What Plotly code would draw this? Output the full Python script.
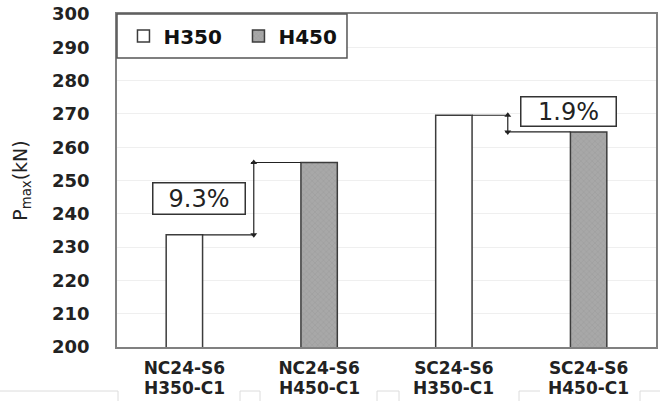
import plotly.graph_objects as go

# Specimens and peak loads (kN)
cat_top = ["NC24-S6", "NC24-S6", "SC24-S6", "SC24-S6"]
cat_bottom = ["H350-C1", "H450-C1", "H350-C1", "H450-C1"]
h350 = [233.7, None, 269.6, None]
h450 = [None, 255.4, None, 264.6]
y_ticks = list(range(200, 301, 10))

x_idx = list(range(len(cat_top)))
BAR_W = 0.27
EDGE = "#3c3c3c"
FONT = "DejaVu Sans"

fig = go.Figure()
fig.add_trace(go.Bar(
    x=x_idx, y=h350, name="H350", width=BAR_W,
    marker=dict(color="white", line=dict(color=EDGE, width=1.5)),
))
fig.add_trace(go.Bar(
    x=x_idx, y=h450, name="H450", width=BAR_W,
    marker=dict(color="#a3a3a3", line=dict(color=EDGE, width=1.5),
                pattern=dict(shape="x", fgcolor="#8c8c8c", bgcolor="#a8a8a8",
                             size=4, solidity=0.25)),
))

shapes = []
annotations = []


def pct_link(i_from, i_to, v_from, v_to, arrow_x, label_x, label_y, yshift, w, h):
    """Step connector between two bar tops with a double arrow and a % box."""
    half = BAR_W / 2
    # horizontal leaders from each bar top to the arrow
    shapes.append(dict(type="line", xref="x", yref="y", x0=i_from + half, x1=arrow_x + 0.01,
                       y0=v_from, y1=v_from, line=dict(color="#222", width=1.2)))
    shapes.append(dict(type="line", xref="x", yref="y", x0=arrow_x - 0.02, x1=i_to - half,
                       y0=v_to, y1=v_to, line=dict(color="#222", width=1.2)))
    # vertical double-headed arrow
    lo, hi = min(v_from, v_to), max(v_from, v_to)
    fig.add_trace(go.Scatter(
        x=[arrow_x, arrow_x], y=[lo, hi], mode="lines+markers", showlegend=False,
        hoverinfo="skip", line=dict(color="#222", width=1.2),
        marker=dict(symbol=["triangle-down", "triangle-up"], size=6, color="#222",
                    line=dict(width=0)),
    ))
    pct = abs(v_to - v_from) / v_from * 100
    annotations.append(dict(x=label_x, y=label_y, xref="x", yref="y", yshift=yshift,
                            text=f"{pct:.1f}%", showarrow=False, width=w, height=h,
                            bgcolor="white", bordercolor="#333", borderwidth=1.5, borderpad=0,
                            font=dict(family=FONT, size=24, color="#222")))


pct_link(0, 1, h350[0], h450[1], 0.515, 0.11, (h350[0] + h450[1]) / 2, 0, 91, 30)
pct_link(2, 3, h350[2], h450[3], 2.40, 2.85, h350[2], 4, 94, 28)

# second line of each category label
for i, txt in zip(x_idx, cat_bottom):
    annotations.append(dict(x=i, y=0, xref="x", yref="paper", yanchor="top", yshift=-30,
                            text=txt, showarrow=False, borderpad=0,
                            font=dict(family=FONT, size=17, color="#222", weight="bold")))

# legend frame
shapes.append(dict(type="rect", xref="paper", yref="paper", x0=0, x1=0.4267, y0=0.868, y1=1,
                   layer="above", fillcolor="white", line=dict(color="#555", width=1.5)))

# faint ruling lines below the chart
faint = dict(color="#dcdcdc", width=1)
for x0, x1 in [(0, 118), (240, 260), (377, 399), (519, 540), (640, 660)]:
    shapes.append(dict(type="line", xref="paper", yref="paper",
                       x0=(x0 - 117) / 539, x1=(x1 - 117) / 539,
                       y0=-(391 - 347) / 333, y1=-(391 - 347) / 333, line=faint))
for xv in [118, 240, 260, 377, 399, 519, 640]:
    shapes.append(dict(type="line", xref="paper", yref="paper",
                       x0=(xv - 117) / 539, x1=(xv - 117) / 539,
                       y0=-(391 - 347) / 333, y1=-(401 - 347) / 333, line=faint))

fig.update_layout(
    width=667, height=401,
    margin=dict(l=117, r=11, t=14, b=54, autoexpand=False),
    paper_bgcolor="white", plot_bgcolor="white",
    barmode="overlay",
    showlegend=True,
    legend=dict(orientation="h", x=0.012, y=0.934, xanchor="left", yanchor="middle",
                bgcolor="rgba(0,0,0,0)", borderwidth=0,
                font=dict(family=FONT, size=20, color="#111", weight="bold"),
                entrywidth=70, itemwidth=30),
    shapes=shapes,
    annotations=annotations,
    font=dict(family=FONT, color="#222"),
)

fig.update_xaxes(
    range=[-0.5, 3.5], tickmode="array", tickvals=x_idx, ticktext=cat_top,
    tickfont=dict(family=FONT, size=17, color="#222", weight="bold"),
    ticklabelstandoff=5, automargin=False,
    showline=True, mirror=True, linecolor="#808080", linewidth=1.5,
    ticks="", showgrid=False, zeroline=False,
)
fig.update_yaxes(
    range=[200, 300], tickmode="array", tickvals=y_ticks,
    tickfont=dict(family=FONT, size=18, color="#222", weight="bold"),
    ticklabelstandoff=22, automargin=False,
    showline=True, mirror=True, linecolor="#808080", linewidth=1.5,
    ticks="", showgrid=True, gridcolor="#efefef", gridwidth=1, zeroline=False,
    title=dict(text="P<sub>max</sub>(kN)", standoff=19,
               font=dict(family=FONT, size=19, color="#222")),
)

fig.write_html("out.html")
